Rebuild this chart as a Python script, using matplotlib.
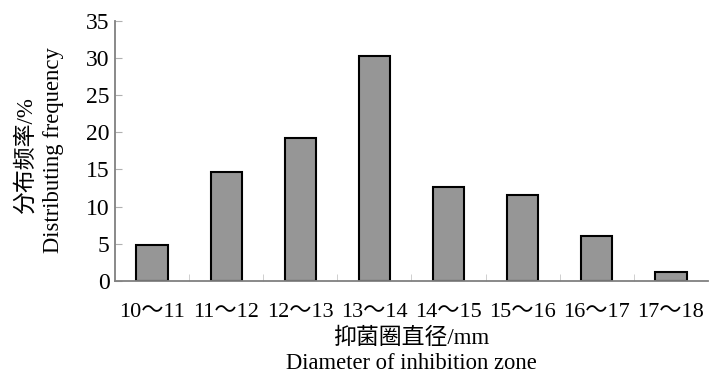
import numpy as np
import matplotlib
matplotlib.use("Agg")
import matplotlib.pyplot as plt

plt.rcParams['font.family'] = ['Liberation Serif', 'Noto Sans CJK SC', 'DejaVu Sans']

# distribution of inhibition zone diameters
ranges = ["10～11", "11～12", "12～13", "13～14", "14～15", "15～16", "16～17", "17～18"]
freq = [4.9, 14.7, 19.3, 30.2, 12.6, 11.5, 6.1, 1.2]
yticks = [0, 5, 10, 15, 20, 25, 30, 35]

fig = plt.figure(figsize=(7.14, 3.76), dpi=100)
ax = fig.add_axes([0.161, 0.2527, 0.8306, 0.692])

x = np.arange(len(ranges))
ax.bar(x, freq, width=0.42, color="#969696", edgecolor="black", linewidth=1.5)

ax.set_xlim(-0.5, len(ranges) - 0.5)
ax.set_ylim(0, 35)
ax.set_yticks(yticks)
ax.set_yticklabels([str(v) for v in yticks], fontsize=17)

# category labels centred under bars, tick marks on the boundaries
ax.set_xticks(x)
ax.set_xticklabels(ranges, fontsize=16)
ax.tick_params(axis="x", length=0, pad=16)
ax.set_xticks(np.arange(0.5, len(ranges) - 0.5), minor=True)
ax.tick_params(axis="x", which="minor", direction="in", length=5, color="#c8c8c8")
ax.tick_params(axis="y", direction="in", length=5, color="#b0b0b0", pad=4)

for s in ["top", "right"]:
    ax.spines[s].set_visible(False)
ax.spines["left"].set_color("#808080")
ax.spines["bottom"].set_color("#808080")
ax.spines["left"].set_linewidth(1.3)
ax.spines["bottom"].set_linewidth(1.3)

fig.text(0.036, 0.59, "分布频率/%", rotation=90, ha="center", va="center", fontsize=16.5)
fig.text(0.075, 0.602, "Distributing frequency", rotation=90, ha="center", va="center", fontsize=16.3)
fig.text(0.576, 0.1, "抑菌圈直径/mm", ha="center", va="center", fontsize=16.5)
fig.text(0.576, 0.032, "Diameter of inhibition zone", ha="center", va="center", fontsize=16.3)

fig.savefig("out.png", dpi=100)
